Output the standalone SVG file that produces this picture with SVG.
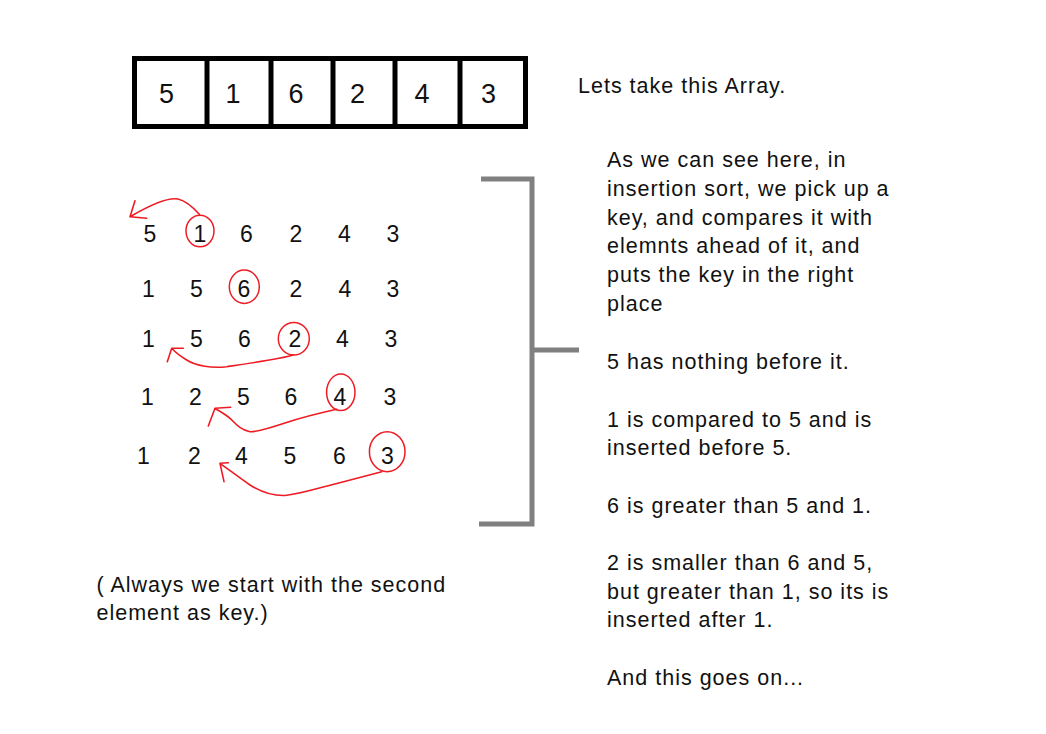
<svg xmlns="http://www.w3.org/2000/svg" width="1046" height="734" viewBox="0 0 1046 734">
<style>
.t{font-family:"Liberation Sans",Arial,sans-serif;font-size:21.5px;letter-spacing:1px;fill:#111}
.d{font-family:"Liberation Sans",Arial,sans-serif;font-size:23px;fill:#111;text-anchor:middle}
.b{font-family:"Liberation Sans",Arial,sans-serif;font-size:27px;fill:#111;text-anchor:middle}
.c{fill:none;stroke:#ED1C24;stroke-width:1.5}
.a{fill:none;stroke:#ED1C24;stroke-width:1.6;stroke-linecap:round;stroke-linejoin:round}
.k{fill:none;stroke:#808080;stroke-width:5}
</style>
<rect width="1046" height="734" fill="#fff"/>
<g id="array">
<rect x="134.5" y="58.5" width="391" height="68" fill="#fff" stroke="#000" stroke-width="5"/>
<g stroke="#000" stroke-width="5">
<line x1="207" y1="58" x2="207" y2="127"/>
<line x1="271" y1="58" x2="271" y2="127"/>
<line x1="333" y1="58" x2="333" y2="127"/>
<line x1="395" y1="58" x2="395" y2="127"/>
<line x1="460" y1="58" x2="460" y2="127"/>
</g>
<text class="b" x="166.5" y="103">5</text>
<text class="b" x="233" y="103">1</text>
<text class="b" x="296" y="103">6</text>
<text class="b" x="357.5" y="103">2</text>
<text class="b" x="422" y="103">4</text>
<text class="b" x="488.5" y="103">3</text>
</g>
<g id="rows">
<g id="row1">
<text class="d" x="150" y="241.5">5</text><text class="d" x="200" y="241.5">1</text><text class="d" x="246.5" y="241.5">6</text><text class="d" x="296" y="241.5">2</text><text class="d" x="344.5" y="241.5">4</text><text class="d" x="393" y="241.5">3</text>
<ellipse class="c" cx="200" cy="231" rx="14" ry="15.8"/>
</g>
<g id="row2">
<text class="d" x="148.5" y="296.5">1</text><text class="d" x="196.5" y="296.5">5</text><text class="d" x="244" y="296.5">6</text><text class="d" x="296" y="296.5">2</text><text class="d" x="345" y="296.5">4</text><text class="d" x="393" y="296.5">3</text>
<ellipse class="c" cx="244.3" cy="286.7" rx="15" ry="16.7"/>
</g>
<g id="row3">
<text class="d" x="148.5" y="346.5">1</text><text class="d" x="196.5" y="346.5">5</text><text class="d" x="244.5" y="346.5">6</text><text class="d" x="295" y="346.5">2</text><text class="d" x="342.5" y="346.5">4</text><text class="d" x="391" y="346.5">3</text>
<ellipse class="c" cx="293.8" cy="338.8" rx="15.5" ry="16.2"/>
</g>
<g id="row4">
<text class="d" x="147.5" y="404.5">1</text><text class="d" x="195.5" y="404.5">2</text><text class="d" x="243.5" y="404.5">5</text><text class="d" x="291" y="404.5">6</text><text class="d" x="340" y="404.5">4</text><text class="d" x="390" y="404.5">3</text>
<ellipse class="c" cx="340.8" cy="392.3" rx="14.2" ry="18.3"/>
</g>
<g id="row5">
<text class="d" x="143.5" y="463.5">1</text><text class="d" x="194.5" y="463.5">2</text><text class="d" x="241.5" y="463.5">4</text><text class="d" x="290" y="463.5">5</text><text class="d" x="339.5" y="463.5">6</text><text class="d" x="387.5" y="463.5">3</text>
<ellipse class="c" cx="387.2" cy="451.7" rx="17.8" ry="20"/>
</g>
</g>
<g id="connectors">
<path class="a" d="M199.3,214.3 C192,206 186,201 178,199 C168,197 150,205 130,216.7 M135,200.7 L130,216.7 L146.7,218.3"/>
<path class="a" d="M293.3,355 C280,359 245,364 226.7,366.7 C212,368.5 196,366 186.7,360 C180,356 175,352 171.7,348.3 M183.3,348.3 L171.7,348.3 L167.3,361.7"/>
<path class="a" d="M336.7,409.3 C320,413 300,418 285,423 C270,428 258,432 250,431.7 C240,430 235,423 230,418.3 C225,414 219,411 215,408.3 M230.7,407.3 L215,408.3 L208.3,426"/>
<path class="a" d="M381.7,471.7 C365,476 350,480 335,484 C315,489 300,494 285,495.5 C270,496 258,490 250,485 C240,478 228,469 220,463.3 M228.3,462.7 L220,463.3 L224,481.7"/>
<g id="bracket">
<polyline class="k" points="481,179 532,179 532,524 479,524"/>
<line class="k" x1="532" y1="350" x2="579" y2="350"/>
</g>
</g>
<g id="texts">
<text class="t" x="578" y="93">Lets take this Array.</text>
<text class="t" x="607" y="167">As we can see here, in</text>
<text class="t" x="607" y="196">insertion sort, we pick up a</text>
<text class="t" x="607" y="224.5">key, and compares it with</text>
<text class="t" x="607" y="253">elemnts ahead of it, and</text>
<text class="t" x="607" y="282">puts the key in the right</text>
<text class="t" x="607" y="310.5">place</text>
<text class="t" x="607" y="368.5">5 has nothing before it.</text>
<text class="t" x="607" y="426.5">1 is compared to 5 and is</text>
<text class="t" x="607" y="455">inserted before 5.</text>
<text class="t" x="607" y="512.5">6 is greater than 5 and 1.</text>
<text class="t" x="607" y="570">2 is smaller than 6 and 5,</text>
<text class="t" x="607" y="598.5">but greater than 1, so its is</text>
<text class="t" x="607" y="627">inserted after 1.</text>
<text class="t" x="607" y="684.5">And this goes on...</text>
<text class="t" x="96.5" y="591.5">( Always we start with the second</text>
<text class="t" x="96.5" y="620">element as key.)</text>
</g>
</svg>
